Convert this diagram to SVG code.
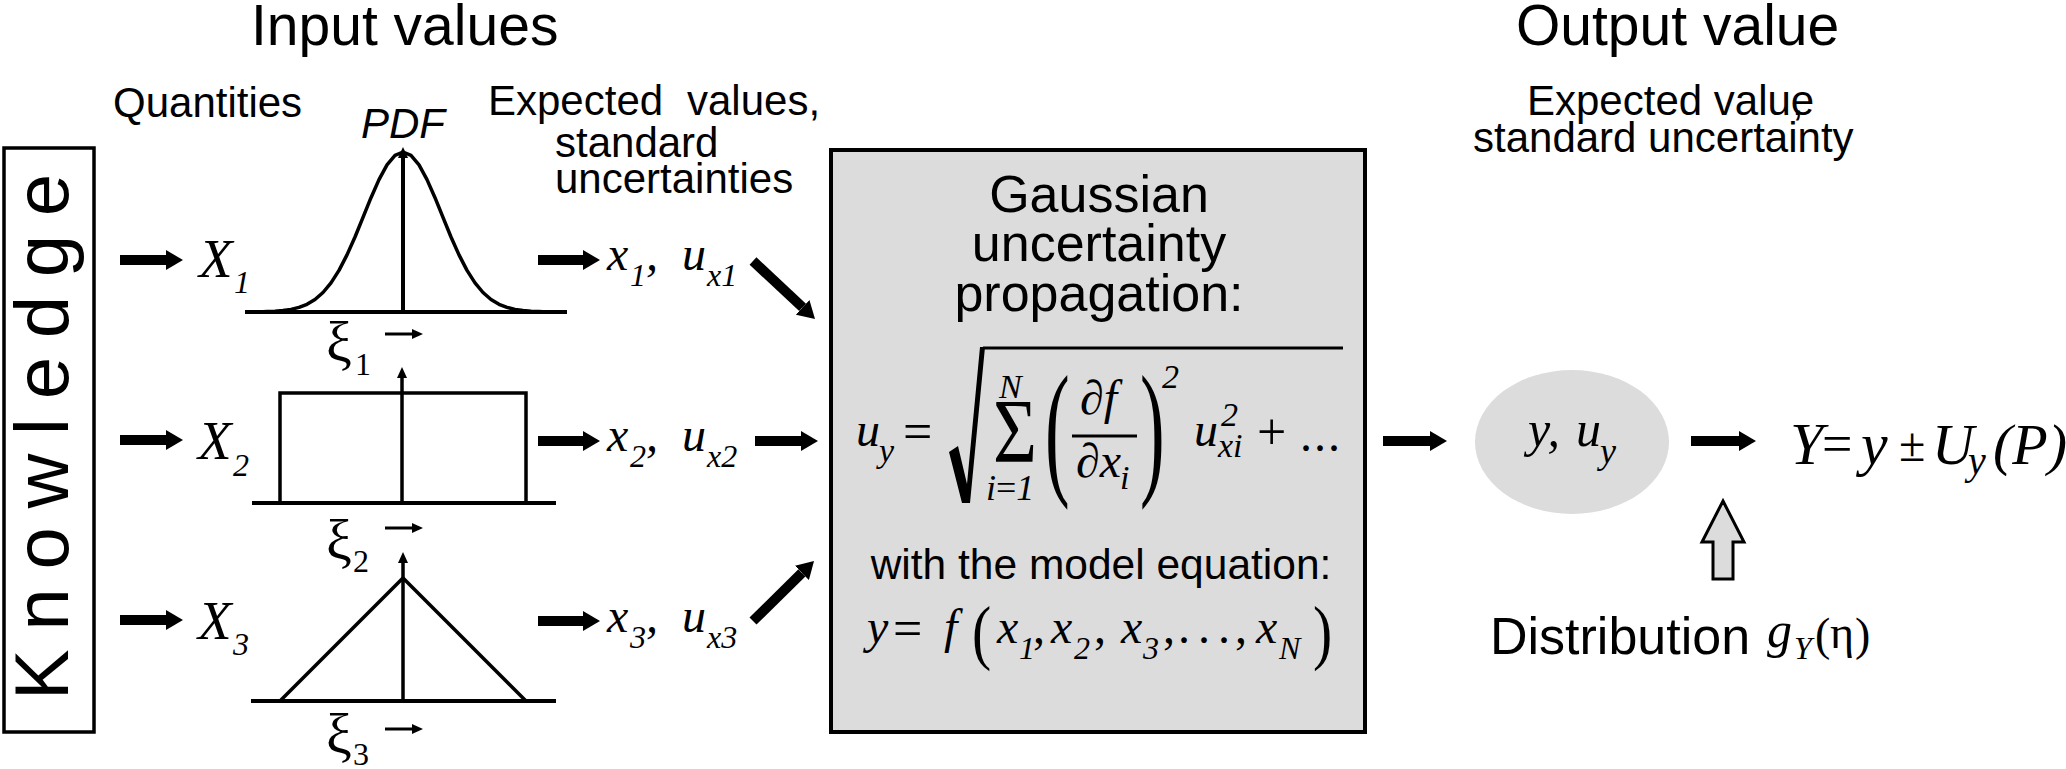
<svg xmlns="http://www.w3.org/2000/svg" width="2066" height="769" viewBox="0 0 2066 769">
<style>
text{fill:#000}
.s{font-family:"Liberation Sans",Arial,sans-serif}
.m{font-family:"Liberation Serif","Times New Roman",serif}
.i{font-style:italic}
.ln{stroke:#000;fill:none}
.gray{fill:#dcdcdc}
.thick{stroke:#000;stroke-width:10;fill:none}
.thin{stroke:#000;stroke-width:3;fill:none}
</style>
<defs>
<marker id="ah" markerUnits="userSpaceOnUse" markerWidth="17" markerHeight="20" refX="0" refY="10" orient="auto"><path d="M0,0L17,10L0,20Z" fill="#000"/></marker>
<marker id="sa" markerUnits="userSpaceOnUse" markerWidth="11" markerHeight="10" refX="0" refY="5" orient="auto"><path d="M0,0L11,5L0,10Z" fill="#000"/></marker>
</defs>
<rect width="2066" height="769" fill="#fff"/>

<g id="titles">
<text class="s" font-size="57" x="251" y="45">Input values</text>
<text class="s" font-size="57" x="1516" y="45">Output value</text>
<text class="s" font-size="42" x="113" y="117">Quantities</text>
<text class="s i" font-size="42" x="361" y="138">PDF</text>
<text class="s" font-size="42" y="115"><tspan x="488">Expected</tspan><tspan x="687">values,</tspan></text>
<text class="s" font-size="42" x="555" y="157">standard</text>
<text class="s" font-size="42" x="555" y="193">uncertainties</text>
<text class="s" font-size="42" x="1527" y="115">Expected value<tspan x="1792">,</tspan></text>
<text class="s" font-size="42" x="1473" y="152">standard uncertainty</text>
</g>

<g id="knowledge">
<rect x="4" y="148" width="90" height="584" fill="none" stroke="#000" stroke-width="3.5"/>
<text class="s" font-size="76" transform="translate(68,700) rotate(-90)" textLength="526" lengthAdjust="spacing">Knowledge</text>
</g>

<g id="quantity-X1">
<text class="m i" font-size="55" x="199" y="277">X</text><text class="m i" font-size="32" x="234" y="293">1</text>
</g>
<g id="quantity-X2">
<text class="m i" font-size="55" x="198" y="459">X</text><text class="m i" font-size="32" x="233" y="476">2</text>
</g>
<g id="quantity-X3">
<text class="m i" font-size="55" x="198" y="639">X</text><text class="m i" font-size="32" x="233" y="655">3</text>
</g>

<g id="pdf-gauss">
<line x1="245" y1="312" x2="567" y2="312" stroke="#000" stroke-width="4"/>
<polyline class="ln" stroke-width="3.5" stroke-linejoin="round" points="259,312 267,311.6 275,311.3 283,310.6 291,309.4 299,307.4 307,304.3 315,299.5 323,292.5 331,282.9 339,270.4 347,254.9 355,237 363,217.4 371,197.7 379,179.6 387,164.9 395,155.4 403,152 411,155.4 419,164.9 427,179.6 435,197.7 443,217.4 451,237 459,254.9 467,270.4 475,282.9 483,292.5 491,299.5 499,304.3 507,307.4 515,309.4 523,310.6 531,311.3 539,311.6 547,312"/>
<line x1="403" y1="312" x2="403" y2="158" stroke="#000" stroke-width="4" marker-end="url(#sa)"/>
<text class="m" font-size="58" x="326" y="361">ξ</text><text class="m" font-size="32" x="355" y="375">1</text>
<line class="thin" x1="385" y1="334" x2="412" y2="334" marker-end="url(#sa)"/>
</g>

<g id="pdf-rect">
<line x1="252" y1="503" x2="556" y2="503" stroke="#000" stroke-width="4"/>
<polyline class="ln" stroke-width="3.5" points="280,503 280,393 526,393 526,503"/>
<line x1="402" y1="503" x2="402" y2="378" stroke="#000" stroke-width="3.5" marker-end="url(#sa)"/>
<text class="m" font-size="58" x="326" y="559">ξ</text><text class="m" font-size="32" x="353" y="572">2</text>
<line class="thin" x1="385" y1="528" x2="412" y2="528" marker-end="url(#sa)"/>
</g>

<g id="pdf-tri">
<line x1="251" y1="701" x2="556" y2="701" stroke="#000" stroke-width="4"/>
<polyline class="ln" stroke-width="3.5" stroke-linejoin="miter" points="280,701 403,578 526,701"/>
<line x1="403" y1="701" x2="403" y2="563" stroke="#000" stroke-width="3.5" marker-end="url(#sa)"/>
<text class="m" font-size="58" x="326" y="753">ξ</text><text class="m" font-size="32" x="353" y="765">3</text>
<line class="thin" x1="385" y1="729" x2="412" y2="729" marker-end="url(#sa)"/>
</g>

<g id="estimate-x1">
<text class="m i" font-size="48" x="607" y="270">x</text><text class="m i" font-size="32" x="630" y="286">1</text><text class="m i" font-size="48" x="646" y="270">,</text><text class="m i" font-size="48" x="682" y="270">u</text><text class="m i" font-size="32" x="707" y="286">x1</text>
</g>
<g id="estimate-x2">
<text class="m i" font-size="48" x="607" y="451">x</text><text class="m i" font-size="32" x="630" y="467">2</text><text class="m i" font-size="48" x="646" y="451">,</text><text class="m i" font-size="48" x="682" y="451">u</text><text class="m i" font-size="32" x="707" y="467">x2</text>
</g>
<g id="estimate-x3">
<text class="m i" font-size="48" x="607" y="632">x</text><text class="m i" font-size="32" x="630" y="648">3</text><text class="m i" font-size="48" x="646" y="632">,</text><text class="m i" font-size="48" x="682" y="632">u</text><text class="m i" font-size="32" x="707" y="648">x3</text>
</g>

<g id="propagation-box">
<rect x="831" y="150" width="534" height="582" class="gray" stroke="#000" stroke-width="4"/>
<text class="s" font-size="52" text-anchor="middle"><tspan x="1099" y="212">Gaussian</tspan><tspan x="1099" y="261">uncertainty</tspan><tspan x="1099" y="311">propagation:</tspan></text>
<text class="m i" font-size="48" x="856" y="446">u</text><text class="m i" font-size="34" x="879" y="462">y</text>
<text class="m" font-size="52" x="903" y="449">=</text>
<path d="M949,452L958,446L967,484L980,347L985,347L970,503L962,503Z" fill="#000"/>
<line x1="983" y1="348" x2="1343" y2="348" stroke="#000" stroke-width="3"/>
<text class="m i" font-size="34" x="999" y="398">N</text>
<text class="m" font-size="92" x="993" y="462" textLength="44" lengthAdjust="spacingAndGlyphs">Σ</text>
<text class="m" font-size="36" x="986" y="500"><tspan class="i">i</tspan>=<tspan class="i">1</tspan></text>
<text class="m" font-size="148" transform="translate(1045,478) scale(0.5,1)">(</text>
<text class="m" font-size="48" x="1080" y="414">∂<tspan class="i">f</tspan></text>
<line x1="1072" y1="436" x2="1137" y2="436" stroke="#000" stroke-width="3"/>
<text class="m" font-size="48" x="1076" y="477">∂<tspan class="i">x</tspan></text><text class="m i" font-size="34" x="1120" y="489">i</text>
<text class="m" font-size="148" transform="translate(1140,478) scale(0.5,1)">)</text>
<text class="m i" font-size="34" x="1162" y="388">2</text>
<text class="m i" font-size="48" x="1194" y="446">u</text>
<text class="m i" font-size="34" x="1221" y="426">2</text>
<text class="m i" font-size="34" x="1218" y="457">xi</text>
<text class="m" font-size="52" x="1257" y="449">+</text>
<text class="m" font-size="48" x="1300" y="451" letter-spacing="2">...</text>
<text class="s" font-size="42.5" x="1101" y="579" text-anchor="middle">with the model equation:</text>
<text class="m i" font-size="48" x="867" y="643">y</text>
<text class="m" font-size="52" x="893" y="646">=</text>
<text class="m i" font-size="48" x="944" y="643">f</text>
<text class="m" font-size="72" transform="translate(972,656) scale(0.8,1)">(</text>
<text class="m i" font-size="48" x="997" y="643">x</text><text class="m i" font-size="32" x="1019" y="659">1</text>
<text class="m" font-size="48" x="1033" y="643">,</text>
<text class="m i" font-size="48" x="1051" y="643">x</text><text class="m i" font-size="32" x="1074" y="659">2</text>
<text class="m" font-size="48" x="1094" y="643">,</text>
<text class="m i" font-size="48" x="1121" y="643">x</text><text class="m i" font-size="32" x="1143" y="659">3</text>
<text class="m" font-size="48" x="1163" y="643">,</text>
<text class="m" font-size="48" x="1178" y="643" letter-spacing="8">...</text>
<text class="m" font-size="48" x="1235" y="643">,</text>
<text class="m i" font-size="48" x="1256" y="643">x</text><text class="m i" font-size="32" x="1279" y="659">N</text>
<text class="m" font-size="72" transform="translate(1313,656) scale(0.8,1)">)</text>
</g>

<g id="result-ellipse">
<ellipse cx="1572" cy="442" rx="97" ry="72" class="gray"/>
<text class="m i" font-size="50" x="1528" y="446">y,</text>
<text class="m i" font-size="50" x="1576" y="446">u</text><text class="m i" font-size="36" x="1600" y="463">y</text>
</g>

<g id="result-expression">
<text class="m i" font-size="60" x="1790" y="464">Y</text>
<text class="m" font-size="54" x="1822" y="462">=</text>
<text class="m i" font-size="60" x="1861" y="464">y</text>
<text class="m" font-size="48" x="1899" y="461">±</text>
<text class="m i" font-size="58" x="1932" y="464">U</text>
<text class="m i" font-size="40" x="1968" y="474">y</text>
<text class="m i" font-size="58" x="1993" y="464">(P)</text>
</g>

<g id="distribution">
<polygon points="1723,501 1744,542 1733,542 1733,579 1713,579 1713,542 1702,542" class="gray" stroke="#000" stroke-width="3"/>
<text class="s" font-size="52" x="1490" y="654">Distribution</text>
<text class="m i" font-size="50" x="1767" y="647">g</text>
<text class="m i" font-size="32" x="1794" y="659">Y</text>
<text class="m" font-size="46" x="1815" y="650">(</text>
<text class="m" font-size="46" x="1830" y="648">η</text>
<text class="m" font-size="46" x="1855" y="650">)</text>
</g>

<g id="connectors">
<line class="thick" x1="120" y1="260" x2="166" y2="260" marker-end="url(#ah)"/>
<line class="thick" x1="120" y1="440" x2="166" y2="440" marker-end="url(#ah)"/>
<line class="thick" x1="120" y1="620" x2="166" y2="620" marker-end="url(#ah)"/>
<line class="thick" x1="538" y1="260" x2="583" y2="260" marker-end="url(#ah)"/>
<line class="thick" x1="538" y1="441" x2="583" y2="441" marker-end="url(#ah)"/>
<line class="thick" x1="538" y1="621" x2="583" y2="621" marker-end="url(#ah)"/>
<line class="thick" x1="753" y1="261" x2="802.6" y2="307.4" marker-end="url(#ah)"/>
<line class="thick" x1="755" y1="441" x2="801" y2="441" marker-end="url(#ah)"/>
<line class="thick" x1="753" y1="621" x2="801.9" y2="572.9" marker-end="url(#ah)"/>
<line class="thick" x1="1383" y1="441" x2="1430" y2="441" marker-end="url(#ah)"/>
<line class="thick" x1="1691" y1="441" x2="1739" y2="441" marker-end="url(#ah)"/>
</g>
</svg>
